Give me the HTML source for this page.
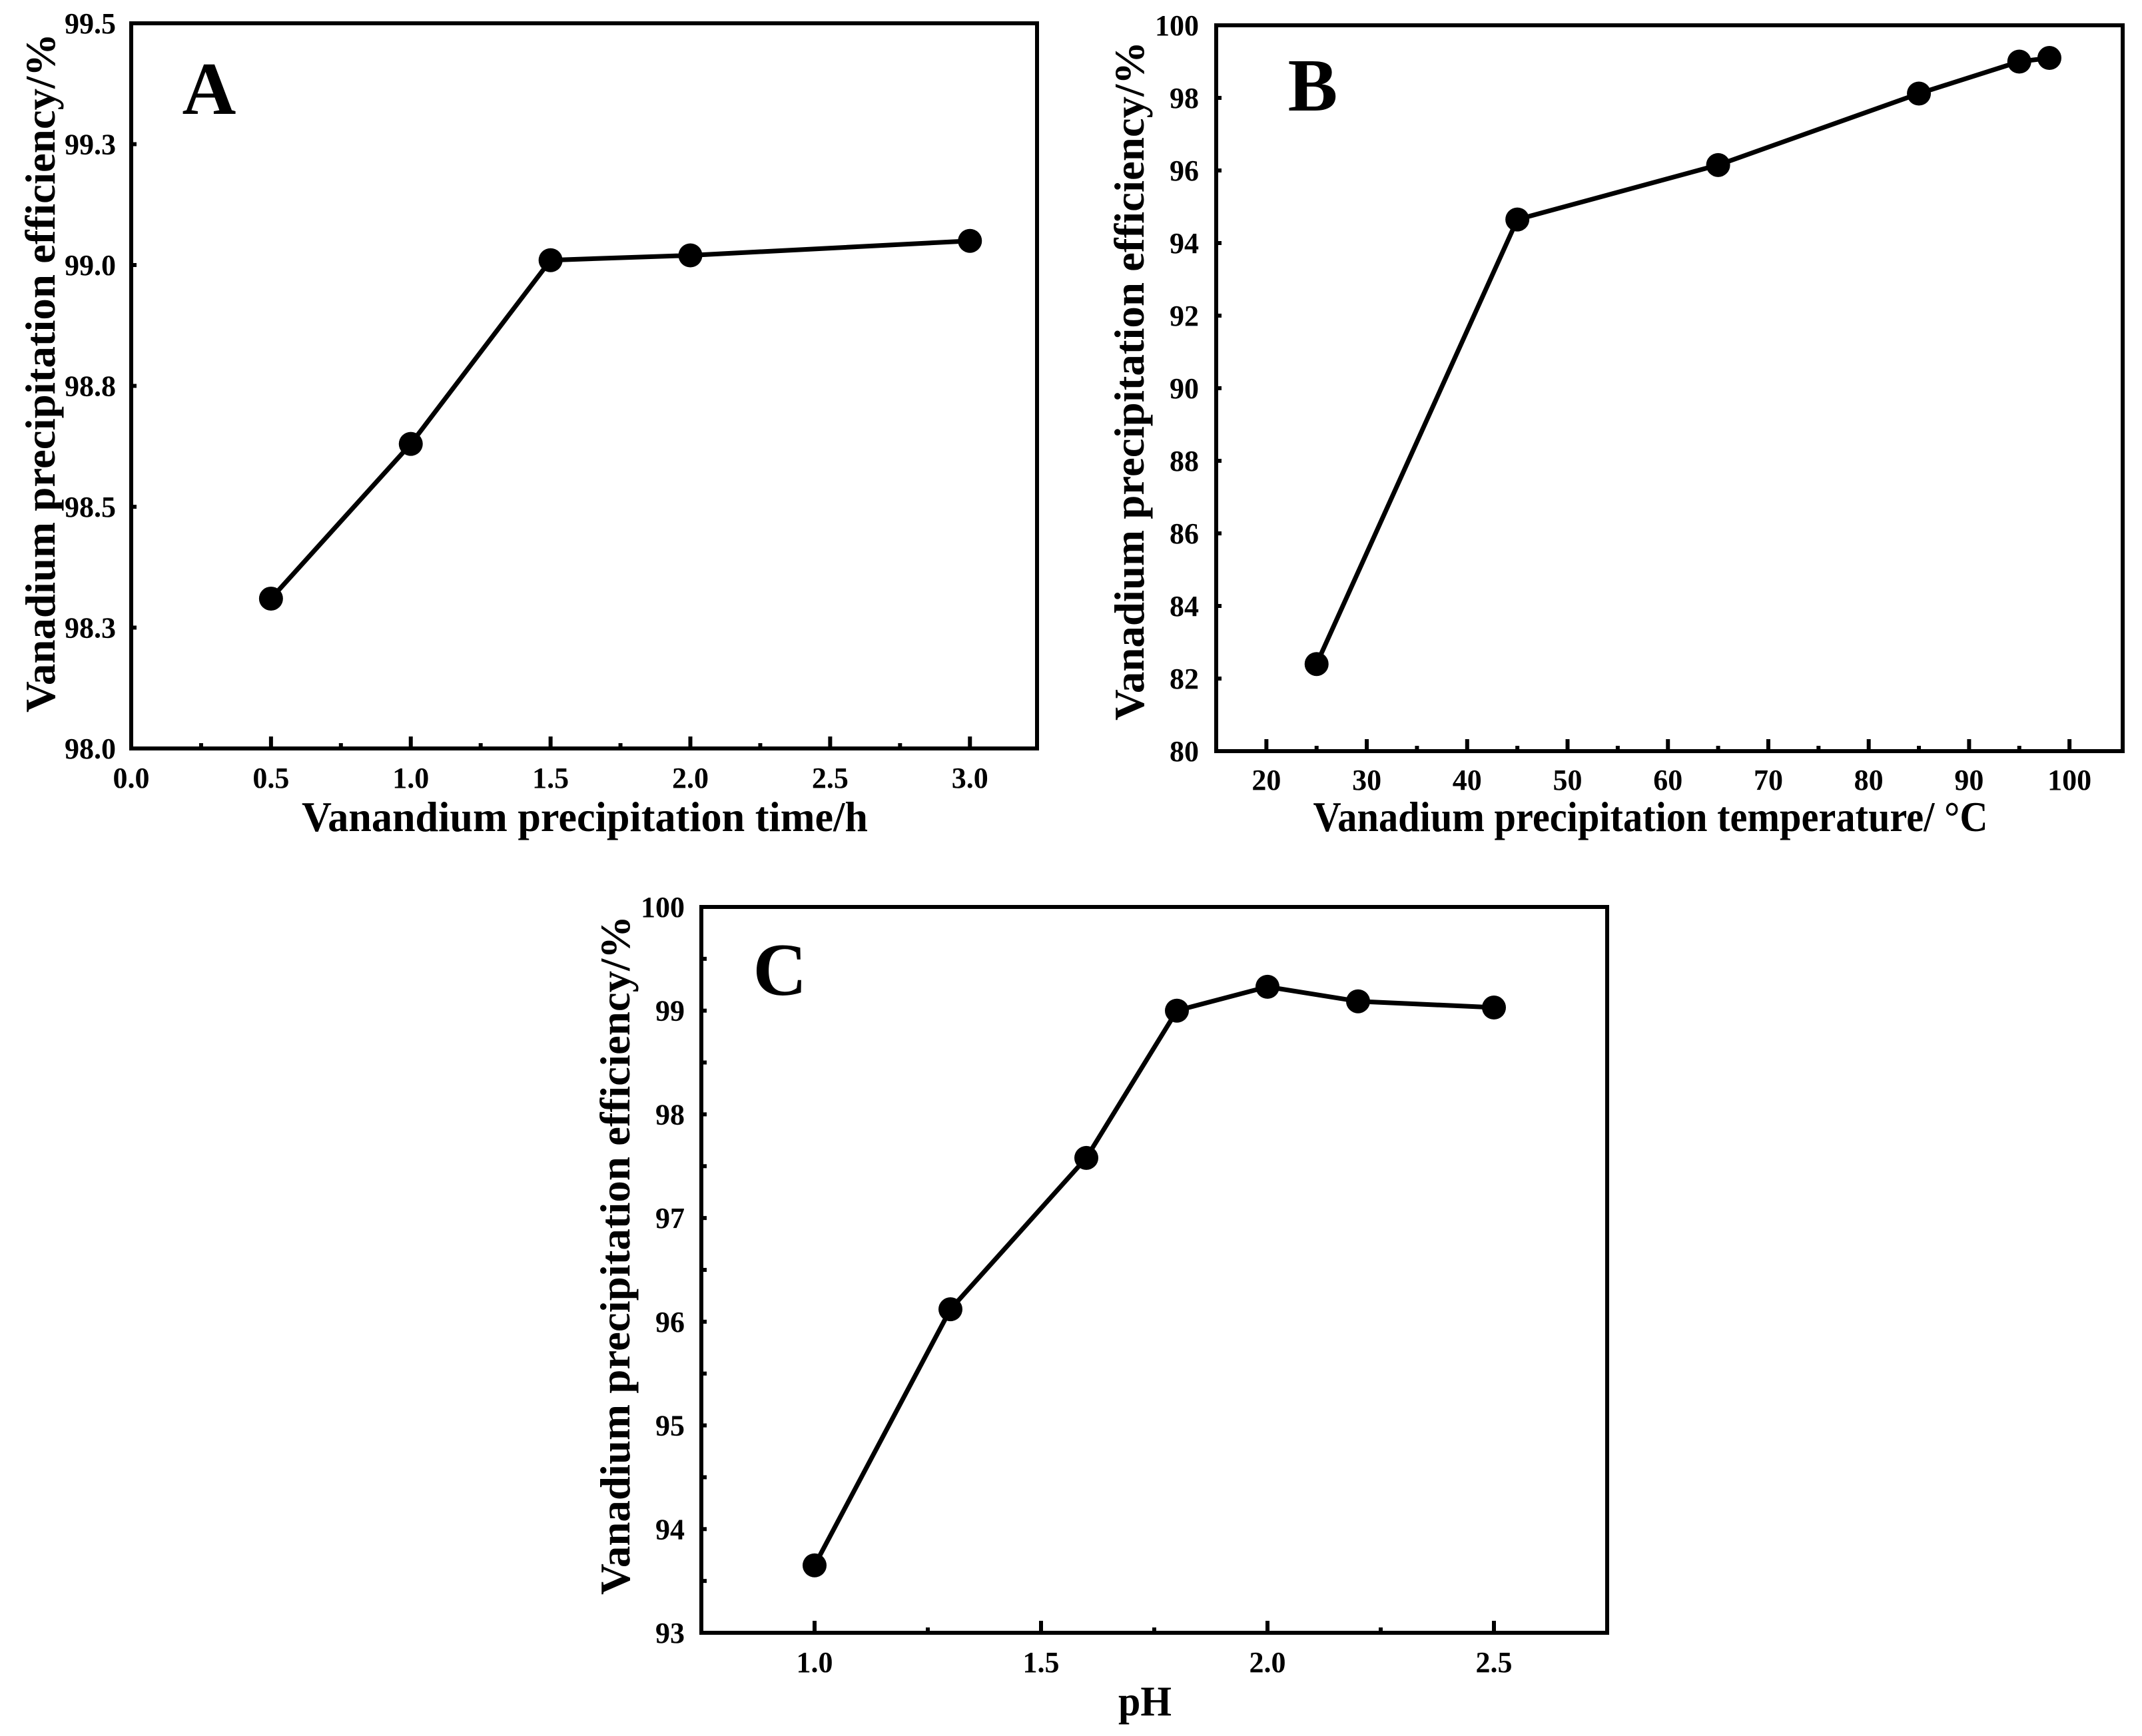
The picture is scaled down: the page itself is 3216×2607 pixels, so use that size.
<!DOCTYPE html>
<html><head><meta charset="utf-8"><style>
html,body{margin:0;padding:0;background:#fff}
svg{display:block}
text{font-family:"Liberation Serif",serif;font-weight:bold;fill:#000}
</style></head><body>
<svg id="fig" width="3216" height="2607" viewBox="0 0 3216 2607" xmlns="http://www.w3.org/2000/svg"></svg>
<script>
// Panel A data
const aX = [0.5, 1.0, 1.5, 2.0, 3.0];
const aY = [98.31, 98.63, 99.01, 99.02, 99.05];
const aXTicks = [0.0, 0.5, 1.0, 1.5, 2.0, 2.5, 3.0];
const aYTicks = [98.0, 98.25, 98.5, 98.75, 99.0, 99.25, 99.5];
const aYLabels = ["98.0", "98.3", "98.5", "98.8", "99.0", "99.3", "99.5"];
// Panel B data
const bX = [25, 45, 65, 85, 95, 98];
const bY = [82.4, 94.65, 96.15, 98.12, 99.0, 99.1];
const bXTicks = [20, 30, 40, 50, 60, 70, 80, 90, 100];
const bYTicks = [80, 82, 84, 86, 88, 90, 92, 94, 96, 98, 100];
// Panel C data
const cX = [1.0, 1.3, 1.6, 1.8, 2.0, 2.2, 2.5];
const cY = [93.65, 96.12, 97.58, 99.0, 99.23, 99.09, 99.03];
const cXTicks = [1.0, 1.5, 2.0, 2.5];
const cYTicks = [93, 94, 95, 96, 97, 98, 99, 100];

const NS = "http://www.w3.org/2000/svg";
const svg = document.getElementById('fig');
function mk(tag, attrs, parent, txt){
  const e = document.createElementNS(NS, tag);
  for (const k in attrs) e.setAttribute(k, attrs[k]);
  if (txt !== undefined) e.textContent = txt;
  (parent||svg).appendChild(e);
  return e;
}
function panel(p){
  const g = mk('g', {});
  
  
  const sx = v => p.L + (v - p.xmin) / (p.xmax - p.xmin) * (p.R - p.L);
  const sy = v => p.B - (v - p.ymin) / (p.ymax - p.ymin) * (p.B - p.T);
  p.xTicks.forEach((v, i) => {
    const x = sx(v);
    const t = mk('line', {x1:x, x2:x, y1:p.B, y2:p.B-18, stroke:'#000','stroke-width':6}, g);
    
    
    const lb = mk('text', {x:x, y:p.xLabY, 'font-size':44, 'text-anchor':'middle'}, g, p.xFmt(v));
    
    
  });
  p.xMinor.forEach(v => {
    const x = sx(v);
    const t = mk('line', {x1:x, x2:x, y1:p.B, y2:p.B-8, stroke:'#000','stroke-width':6}, g);
    
    
  });
  p.yTicks.forEach((v, i) => {
    const y = sy(v);
    const t = mk('line', {x1:p.L, x2:p.L+8, y1:y, y2:y, stroke:'#000','stroke-width':6}, g);
    
    
    const lb = mk('text', {x:p.yLabX, y:y+15, 'font-size':44, 'text-anchor':'end'}, g, p.yLabels ? p.yLabels[i] : String(v));
    
    
  });
  (p.yMinor||[]).forEach(v => {
    const y = sy(v);
    const t = mk('line', {x1:p.L, x2:p.L+8, y1:y, y2:y, stroke:'#000','stroke-width':6}, g);
    
    
  });
  const frame = mk('rect', {x:p.L, y:p.T, width:p.R-p.L, height:p.B-p.T, fill:'none', stroke:'#000', 'stroke-width':6}, g);
  
  
  const pts = p.xs.map((v, i) => sx(v).toFixed(1) + ',' + sy(p.ys[i]).toFixed(1)).join(' ');
  const line = mk('polyline', {points:pts, fill:'none', stroke:'#000', 'stroke-width':7, 'stroke-linejoin':'round'}, g);
  
  
  p.xs.forEach((v, i) => {
    const c = mk('circle', {cx:sx(v), cy:sy(p.ys[i]), r:18, fill:'#000'}, g);
    
    
  });
  const xt = mk('text', {x:p.xTitleX, y:p.xTitleY, 'font-size':64, 'text-anchor':'middle', textLength:p.xTitleLen, lengthAdjust:'spacingAndGlyphs'}, g, p.xTitle);
  
  
  const yt = mk('text', {x:0, y:0, 'font-size':64, 'text-anchor':'middle', textLength:1020, lengthAdjust:'spacingAndGlyphs', transform:'translate(' + p.yTitleX + ',' + p.yTitleY + ') rotate(-90)'}, g, 'Vanadium precipitation efficiency/%');
  
  
  const pl = mk('text', {x:p.letX, y:p.letY, 'font-size':112, 'text-anchor':'middle'}, g, p.letter);
  
  
}
panel({name:'panel-a', L:197, R:1557, T:35, B:1124, xmin:0, xmax:3.24, ymin:98, ymax:99.5,
  xs:aX, ys:aY, xTicks:aXTicks, xMinor:[0.25,0.75,1.25,1.75,2.25,2.75], xFmt:v=>v.toFixed(1),
  yTicks:aYTicks, yLabels:aYLabels, xLabY:1183, yLabX:174,
  xTitle:'Vanandium precipitation time/h', xTitleX:878, xTitleY:1248, xTitleLen:850,
  yTitleX:82, yTitleY:560, letter:'A', letX:314, letY:171});
panel({name:'panel-b', L:1826, R:3187, T:38, B:1128, xmin:15, xmax:105.3, ymin:80, ymax:100,
  xs:bX, ys:bY, xTicks:bXTicks, xMinor:[25,35,45,55,65,75,85,95], xFmt:v=>String(v),
  yTicks:bYTicks, xLabY:1186, yLabX:1800,
  xTitle:'Vanadium precipitation temperature/ \u00B0C', xTitleX:2478, xTitleY:1248, xTitleLen:1013,
  yTitleX:1717, yTitleY:572, letter:'B', letX:1971, letY:166});
panel({name:'panel-c', L:1053, R:2413, T:1362, B:2452, xmin:0.75, xmax:2.75, ymin:93, ymax:100,
  xs:cX, ys:cY, xTicks:cXTicks, xMinor:[1.25,1.75,2.25], xFmt:v=>v.toFixed(1),
  yTicks:cYTicks, yMinor:[93.5,94.5,95.5,96.5,97.5,98.5,99.5], xLabY:2511, yLabX:1028,
  xTitle:'pH', xTitleX:1719, xTitleY:2576, xTitleLen:80,
  yTitleX:945, yTitleY:1885, letter:'C', letX:1171, letY:1494});
</script>
</body></html>
